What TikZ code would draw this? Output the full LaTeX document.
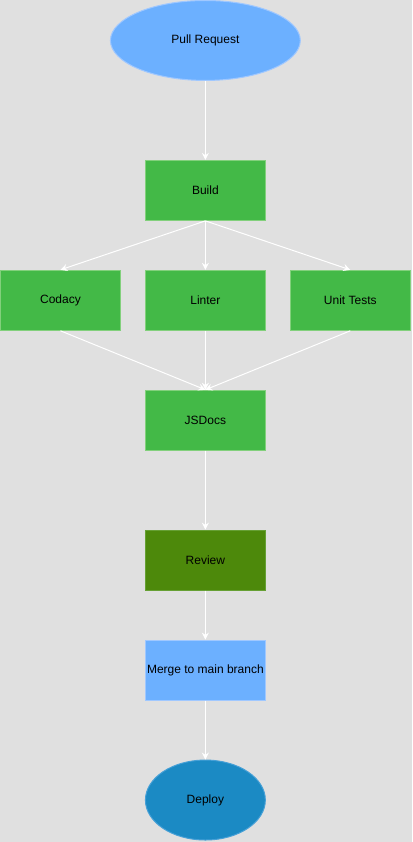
\documentclass[tikz,border=0pt]{standalone}
\usepackage{fontspec}
\setmainfont{Liberation Sans}
\usetikzlibrary{arrows.meta,shapes.geometric}
\definecolor{bgray}{RGB}{224,224,224}
\definecolor{stepgreen}{RGB}{67,185,71}
\definecolor{stepgreenline}{RGB}{130,208,124}
\definecolor{revgreen}{RGB}{77,137,11}
\definecolor{revgreenline}{RGB}{102,160,52}
\definecolor{lightblue}{RGB}{108,176,255}
\definecolor{lightblueline}{RGB}{160,200,255}
\definecolor{deepblue}{RGB}{27,138,196}
\definecolor{deepblueline}{RGB}{70,160,215}
\tikzset{
  stepbox/.style={rectangle, fill=stepgreen, draw=stepgreenline, line width=1pt,
    minimum width=120pt, minimum height=60pt, inner sep=0pt,
    font=\fontsize{12}{14}\selectfont},
  flow/.style={white, line width=1pt, -{Stealth[length=7pt,width=7pt]}}
}

\begin{document}
\begin{tikzpicture}[x=1pt, y=-1pt]
	\fill [bgray] (0, 0) rectangle (412, 842);

	\node [ellipse, fill=lightblue, draw=lightblueline, line width=1pt, minimum width=190pt, minimum height=80pt, inner sep=0pt, font=\fontsize{12}{14}\selectfont] (pr) at (205, 40) {Pull Request};
	\node [stepbox] (build) at (205, 190) {Build};
	\node [stepbox] (codacy) at (60, 300) {Codacy};
	\node [stepbox] (linter) at (205, 300) {Linter};
	\node [stepbox] (unit) at (350, 300) {Unit Tests};
	\node [stepbox] (docs) at (205, 420) {JSDocs};
	\node [stepbox, fill=revgreen, draw=revgreenline] (review) at (205, 560) {Review};
	\node [stepbox, fill=lightblue, draw=lightblueline] (merge) at (205, 670) {Merge to main branch};
	\node [ellipse, fill=deepblue, draw=deepblueline, line width=1pt, minimum width=120pt, minimum height=80pt, inner sep=0pt, font=\fontsize{12}{14}\selectfont] (deploy) at (205, 800) {Deploy};

	\draw [flow] (pr.south) -- (build.north);
	\draw [flow] (build.south) -- (codacy.north);
	\draw [flow] (build.south) -- (linter.north);
	\draw [flow] (build.south) -- (unit.north);
	\draw [flow] (codacy.south) -- (docs.north);
	\draw [flow] (linter.south) -- (docs.north);
	\draw [flow] (unit.south) -- (docs.north);
	\draw [flow] (docs.south) -- (review.north);
	\draw [flow] (review.south) -- (merge.north);
	\draw [flow] (merge.south) -- (deploy.north);
\end{tikzpicture}
\end{document}
